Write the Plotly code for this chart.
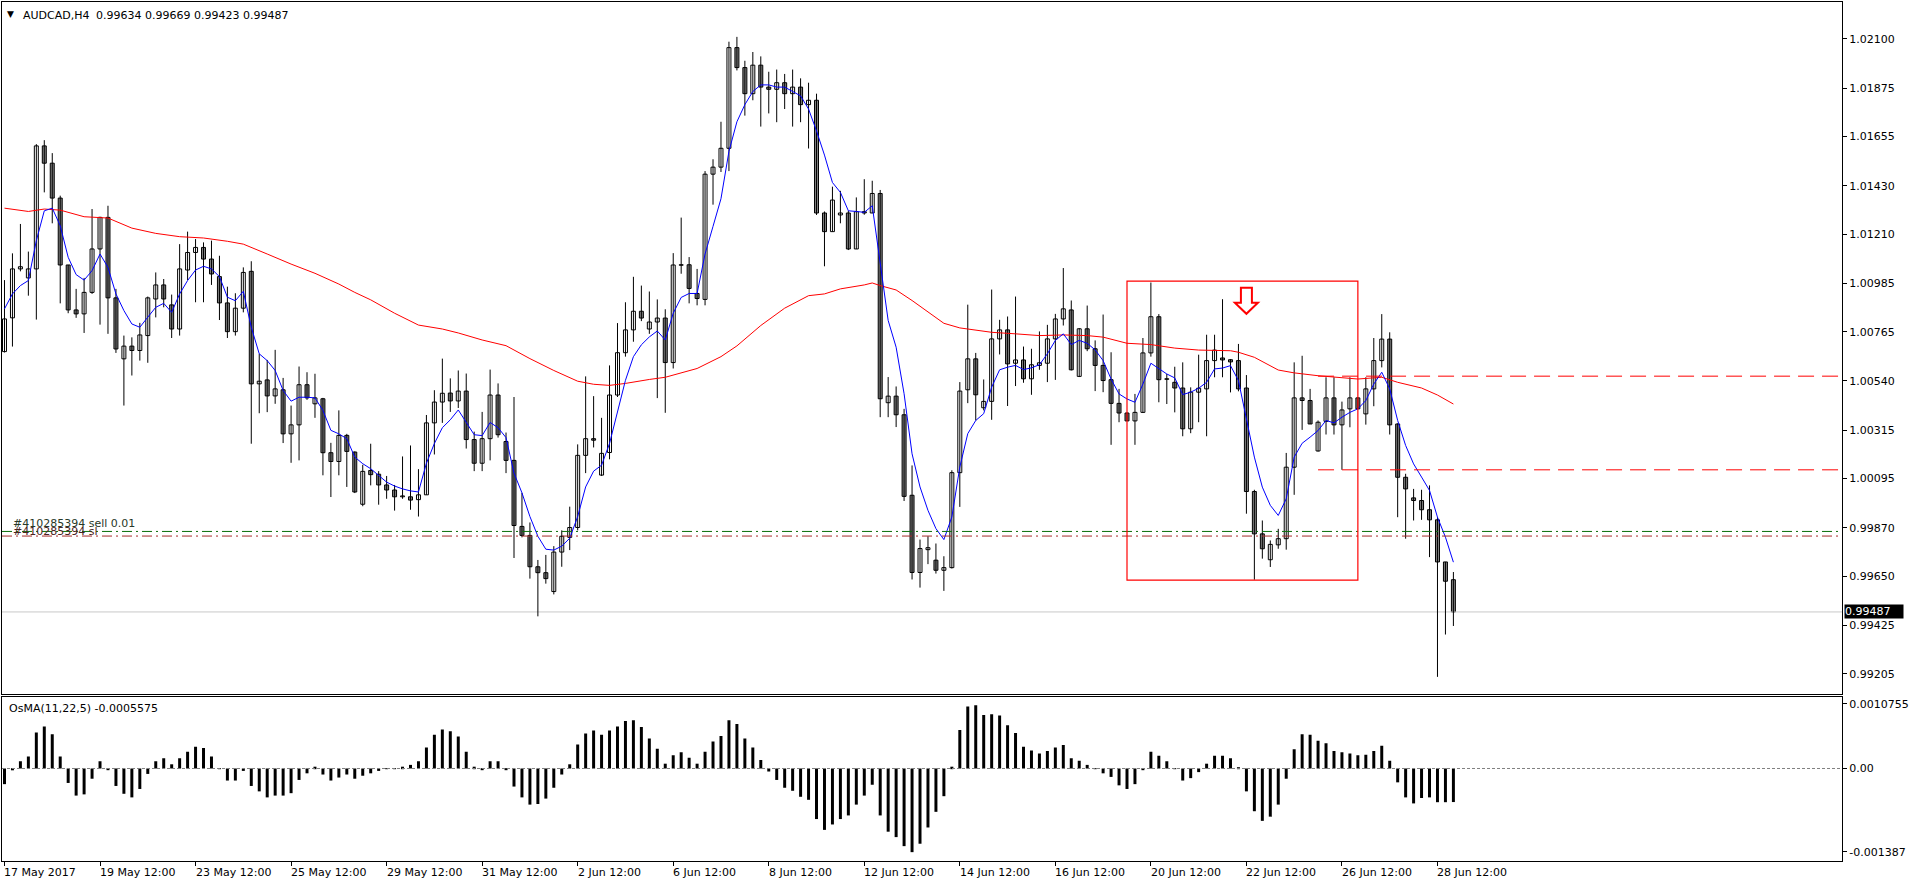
import plotly.graph_objects as go

# ---------------- data (AUDCAD H4, bar 0 = 17 May 2017 12:00) ----------------
bar_open = [
    1.00674, 1.00828, 1.01051, 1.01010, 1.01051, 1.01612, 1.01533, 1.01374, 1.01069, 1.00864,
    1.00846, 1.00944, 1.01142, 1.01286, 1.00919, 1.00641, 1.00699, 1.00679, 1.00747, 1.00914,
    1.00978, 1.00887, 1.00777, 1.01046, 1.01126, 1.01149, 1.01096, 1.01016, 1.00896, 1.00765,
    1.00872, 1.01040, 1.00527, 1.00545, 1.00472, 1.00500, 1.00299, 1.00340, 1.00523, 1.00436,
    1.00459, 1.00213, 1.00173, 1.00292, 1.00216, 0.99978, 1.00132, 1.00115, 1.00066, 1.00043,
    1.00012, 1.00012, 0.99999, 1.00021, 1.00349, 1.00444, 1.00485, 1.00449, 1.00494, 1.00273,
    1.00165, 1.00277, 1.00476, 1.00264, 1.00178, 0.99877, 0.99836, 0.99693, 0.99666, 0.99580,
    0.99760, 0.99827, 0.99872, 1.00201, 1.00277, 1.00111, 1.00214, 1.00476, 1.00669, 1.00773,
    1.00858, 1.00777, 1.00809, 1.00827, 1.00624, 1.01070, 1.01070, 1.00939, 1.00912, 1.01483,
    1.01515, 1.01601, 1.02060, 1.01969, 1.01850, 1.01980, 1.01880, 1.01870, 1.01900, 1.01850,
    1.01880, 1.01800, 1.01820, 1.01306, 1.01221, 1.01297, 1.01306, 1.01142, 1.01312, 1.01306,
    1.01395, 1.00441, 1.00471, 1.00386, 1.00019, 0.99667, 0.99771, 0.99723, 0.99677, 0.99689,
    1.00122, 1.00500, 1.00641, 1.00418, 1.00447, 1.00732, 1.00773, 1.00621, 1.00636, 1.00550,
    1.00611, 1.00621, 1.00732, 1.00823, 1.00864, 1.00561, 1.00778, 1.00687, 1.00611, 1.00546,
    1.00438, 1.00394, 1.00358, 1.00397, 1.00668, 1.00833, 1.00549, 1.00534, 1.00508, 1.00322,
    1.00489, 1.00504, 1.00633, 1.00645, 1.00637, 1.00633, 1.00508, 1.00036, 0.99843, 0.99725,
    0.99793, 0.99821, 1.00147, 1.00463, 1.00451, 1.00221, 1.00356, 1.00463, 1.00340, 1.00413,
    1.00463, 1.00390, 1.00504, 1.00633, 1.00731, 1.00344, 1.00101, 1.00007, 0.99995, 0.99953,
    0.99907, 0.99715, 0.99634]
bar_high = [
    1.01000, 1.01122, 1.01256, 1.01130, 1.01620, 1.01638, 1.01579, 1.01385, 1.01069, 1.00960,
    1.01010, 1.01324, 1.01289, 1.01339, 1.00960, 1.00747, 1.00739, 1.00805, 1.00925, 1.01035,
    1.01005, 1.00934, 1.01164, 1.01221, 1.01187, 1.01172, 1.01180, 1.01111, 1.00970, 1.00940,
    1.01058, 1.01086, 1.00664, 1.00636, 1.00682, 1.00554, 1.00428, 1.00606, 1.00580, 1.00573,
    1.00463, 1.00258, 1.00406, 1.00299, 1.00219, 1.00158, 1.00254, 1.00129, 1.00107, 1.00066,
    1.00196, 1.00246, 1.00138, 1.00385, 1.00498, 1.00642, 1.00552, 1.00588, 1.00574, 1.00309,
    1.00399, 1.00592, 1.00529, 1.00305, 1.00467, 1.00030, 0.99895, 0.99724, 0.99747, 0.99787,
    0.99859, 0.99967, 1.00251, 1.00561, 1.00471, 1.00372, 1.00611, 1.00804, 1.00899, 1.01015,
    1.00975, 1.00948, 1.00912, 1.00867, 1.01123, 1.01285, 1.01105, 1.01051, 1.01497, 1.01551,
    1.01722, 1.02087, 1.02109, 1.02000, 1.02040, 1.02020, 1.01950, 1.01960, 1.01940, 1.01960,
    1.01920, 1.01900, 1.01850, 1.01313, 1.01426, 1.01407, 1.01316, 1.01377, 1.01460, 1.01453,
    1.01411, 1.00558, 1.00515, 1.00413, 1.00155, 0.99817, 0.99832, 0.99799, 0.99741, 1.00133,
    1.00535, 1.00888, 1.00668, 1.00547, 1.00957, 1.00819, 1.00834, 1.00925, 1.00697, 1.00687,
    1.00766, 1.00796, 1.00846, 1.01055, 1.00907, 1.00781, 1.00884, 1.00725, 1.00843, 1.00671,
    1.00504, 1.00397, 1.00481, 1.00736, 1.00989, 1.00845, 1.00572, 1.00605, 1.00625, 1.00511,
    1.00660, 1.00751, 1.00751, 1.00913, 1.00640, 1.00709, 1.00567, 1.00044, 0.99904, 0.99813,
    0.99866, 1.00212, 1.00625, 1.00655, 1.00504, 1.00360, 1.00557, 1.00557, 1.00446, 1.00557,
    1.00466, 1.00557, 1.00736, 1.00845, 1.00762, 1.00347, 1.00117, 1.00048, 1.00044, 1.00064,
    0.99919, 0.99715, 0.99669]
bar_low = [
    1.00670, 1.00697, 1.01040, 1.00929, 1.00820, 1.01400, 1.01259, 1.00894, 1.00849, 1.00828,
    1.00759, 1.00937, 1.00797, 1.00755, 1.00668, 1.00428, 1.00565, 1.00633, 1.00623, 1.00830,
    1.00876, 1.00736, 1.00747, 1.01000, 1.00899, 1.00899, 1.00978, 1.00818, 1.00736, 1.00747,
    1.00853, 1.00254, 1.00393, 1.00398, 1.00436, 1.00257, 1.00167, 1.00178, 1.00454, 1.00372,
    1.00110, 1.00011, 1.00110, 1.00057, 1.00029, 0.99969, 1.00064, 0.99976, 1.00003, 0.99949,
    1.00003, 0.99953, 0.99922, 1.00021, 1.00205, 1.00349, 1.00399, 1.00417, 1.00232, 1.00129,
    1.00129, 1.00178, 1.00282, 1.00120, 0.99733, 0.99827, 0.99639, 0.99467, 0.99616, 0.99567,
    0.99693, 0.99769, 0.99859, 1.00120, 1.00237, 1.00107, 1.00183, 1.00467, 1.00651, 1.00719,
    1.00813, 1.00755, 1.00462, 1.00395, 1.00597, 1.01029, 1.00894, 1.00885, 1.00885, 1.01344,
    1.01493, 1.01497, 1.01956, 1.01750, 1.01820, 1.01700, 1.01760, 1.01720, 1.01780, 1.01700,
    1.01720, 1.01600, 1.01297, 1.01063, 1.01221, 1.01259, 1.01137, 1.01142, 1.01298, 1.01306,
    1.00375, 1.00375, 1.00330, 0.99993, 0.99635, 0.99598, 0.99705, 0.99662, 0.99583, 0.99685,
    0.99966, 1.00439, 1.00360, 1.00406, 1.00363, 1.00661, 1.00426, 1.00517, 1.00532, 1.00477,
    1.00591, 1.00535, 1.00545, 1.00793, 1.00588, 1.00558, 1.00676, 1.00494, 1.00489, 1.00249,
    1.00352, 1.00358, 1.00249, 1.00394, 1.00651, 1.00443, 1.00435, 1.00397, 1.00288, 1.00302,
    1.00352, 1.00288, 1.00557, 1.00557, 1.00488, 1.00493, 0.99935, 0.99634, 0.99730, 0.99692,
    0.99775, 0.99771, 1.00021, 1.00317, 1.00344, 1.00218, 1.00296, 1.00296, 1.00135, 1.00329,
    1.00413, 1.00341, 1.00425, 1.00602, 1.00296, 0.99919, 0.99821, 0.99904, 0.99907, 0.99737,
    0.99191, 0.99384, 0.99423]
bar_close = [
    1.00823, 1.01051, 1.01061, 1.01051, 1.01612, 1.01533, 1.01374, 1.01069, 1.00864, 1.00846,
    1.00944, 1.01142, 1.01286, 1.00919, 1.00686, 1.00699, 1.00679, 1.00750, 1.00919, 1.00978,
    1.00914, 1.00777, 1.01051, 1.01126, 1.01149, 1.01096, 1.01028, 1.00896, 1.00765, 1.00872,
    1.01035, 1.00527, 1.00539, 1.00472, 1.00504, 1.00299, 1.00340, 1.00523, 1.00463, 1.00463,
    1.00213, 1.00173, 1.00292, 1.00219, 1.00034, 1.00128, 1.00113, 1.00066, 1.00043, 1.00012,
    1.00016, 0.99997, 1.00021, 1.00349, 1.00444, 1.00484, 1.00449, 1.00494, 1.00273, 1.00165,
    1.00277, 1.00476, 1.00295, 1.00178, 0.99881, 0.99836, 0.99693, 0.99666, 0.99639, 0.99760,
    0.99832, 0.99872, 1.00201, 1.00277, 1.00270, 1.00210, 1.00476, 1.00669, 1.00773, 1.00858,
    1.00827, 1.00809, 1.00827, 1.00624, 1.01069, 1.01068, 1.00962, 1.00916, 1.01483, 1.01515,
    1.01601, 1.02060, 1.01969, 1.01850, 1.01980, 1.01880, 1.01870, 1.01900, 1.01850, 1.01880,
    1.01800, 1.01820, 1.01306, 1.01221, 1.01365, 1.01306, 1.01142, 1.01312, 1.01306, 1.01395,
    1.00459, 1.00471, 1.00386, 1.00014, 0.99667, 0.99776, 0.99780, 0.99677, 0.99689, 1.00122,
    1.00494, 1.00641, 1.00477, 1.00447, 1.00732, 1.00773, 1.00618, 1.00636, 1.00550, 1.00614,
    1.00623, 1.00732, 1.00823, 1.00869, 1.00591, 1.00778, 1.00687, 1.00611, 1.00542, 1.00438,
    1.00394, 1.00358, 1.00397, 1.00668, 1.00833, 1.00546, 1.00548, 1.00508, 1.00322, 1.00489,
    1.00507, 1.00633, 1.00681, 1.00636, 1.00627, 1.00504, 1.00036, 0.99843, 0.99775, 0.99795,
    0.99821, 1.00147, 1.00463, 1.00451, 1.00344, 1.00352, 1.00463, 1.00340, 1.00408, 1.00463,
    1.00413, 1.00504, 1.00633, 1.00731, 1.00340, 1.00101, 1.00048, 0.99995, 0.99953, 0.99907,
    0.99715, 0.99627, 0.99487]

ma_fast = [
    1.00869, 1.00937, 1.00975, 1.00998, 1.01180, 1.01316, 1.01328, 1.01248, 1.01104, 1.01025,
    1.01000, 1.01043, 1.01119, 1.01058, 1.00937, 1.00861, 1.00800, 1.00785, 1.00831, 1.00876,
    1.00894, 1.00853, 1.00937, 1.00998, 1.01046, 1.01063, 1.01051, 1.01016, 1.00922, 1.00906,
    1.00949, 1.00785, 1.00664, 1.00633, 1.00588, 1.00497, 1.00448, 1.00466, 1.00466, 1.00463,
    1.00406, 1.00315, 1.00299, 1.00277, 1.00193, 1.00163, 1.00140, 1.00111, 1.00079, 1.00061,
    1.00048, 1.00039, 1.00034, 1.00165, 1.00255, 1.00327, 1.00363, 1.00408, 1.00354, 1.00295,
    1.00291, 1.00351, 1.00327, 1.00282, 1.00120, 1.00030, 0.99922, 0.99832, 0.99773, 0.99769,
    0.99787, 0.99823, 0.99922, 1.00057, 1.00129, 1.00156, 1.00255, 1.00399, 1.00543, 1.00651,
    1.00705, 1.00741, 1.00768, 1.00727, 1.00849, 1.00921, 1.00939, 1.00939, 1.01119, 1.01245,
    1.01371, 1.01587, 1.01722, 1.01800, 1.01860, 1.01890, 1.01890, 1.01880, 1.01880, 1.01860,
    1.01840, 1.01780, 1.01680, 1.01570, 1.01445, 1.01400, 1.01316, 1.01313, 1.01309, 1.01339,
    1.01074, 1.00816, 1.00694, 1.00482, 1.00208, 1.00057, 0.99950, 0.99867, 0.99817, 0.99920,
    1.00148, 1.00300, 1.00360, 1.00391, 1.00512, 1.00591, 1.00603, 1.00611, 1.00592, 1.00600,
    1.00614, 1.00664, 1.00725, 1.00755, 1.00706, 1.00725, 1.00712, 1.00682, 1.00633, 1.00549,
    1.00481, 1.00458, 1.00443, 1.00526, 1.00621, 1.00595, 1.00572, 1.00554, 1.00478, 1.00489,
    1.00507, 1.00534, 1.00595, 1.00599, 1.00610, 1.00542, 1.00360, 1.00193, 1.00056, 0.99973,
    0.99927, 1.00003, 1.00193, 1.00256, 1.00284, 1.00314, 1.00360, 1.00349, 1.00375, 1.00397,
    1.00413, 1.00451, 1.00526, 1.00580, 1.00504, 1.00360, 1.00246, 1.00162, 1.00102, 1.00041,
    0.99919, 0.99828, 0.99714]

ma_slow_bars = [0, 3, 5, 7, 10, 13, 16, 19, 22, 25, 28, 30, 33, 36, 39, 42, 44, 46, 49, 52,
                55, 57, 60, 63, 66, 69, 72, 74, 76, 78, 81, 83, 87, 90, 92, 95, 98, 101, 103, 105,
                108, 109, 110, 112, 114, 116, 118, 120, 122, 124, 127, 130, 133, 136, 138, 141, 144,
                147, 150, 154, 155, 157, 160, 162, 165, 168, 170, 173, 175, 178, 180, 182]
ma_slow = [1.01328, 1.01313, 1.01324, 1.01319, 1.01289, 1.01283, 1.01237, 1.01213, 1.01198, 1.01192,
           1.01177, 1.01164, 1.01119, 1.01073, 1.01031, 1.00982, 1.00944, 1.00910, 1.00849, 1.00795,
           1.00777, 1.00759, 1.00727, 1.00701, 1.00642, 1.00588, 1.00539, 1.00525, 1.00520, 1.00529,
           1.00547, 1.00557, 1.00597, 1.00651, 1.00700, 1.00793, 1.00872, 1.00929, 1.00937, 1.00960,
           1.00978, 1.00987, 1.00975, 1.00955, 1.00907, 1.00854, 1.00803, 1.00782, 1.00773, 1.00762,
           1.00755, 1.00747, 1.00750, 1.00747, 1.00740, 1.00712, 1.00706, 1.00690, 1.00681, 1.00678,
           1.00671, 1.00648, 1.00590, 1.00577, 1.00564, 1.00557, 1.00549, 1.00557, 1.00534, 1.00508,
           1.00476, 1.00435]

osma = [
    -0.00026, -0.00003, 0.00012, 0.00020, 0.00060, 0.00070, 0.00057, 0.00020, -0.00024, -0.00045,
    -0.00043, -0.00017, 0.00012, -0.00002, -0.00029, -0.00042, -0.00048, -0.00034, -0.00009, 0.00012,
    0.00017, 0.00007, 0.00017, 0.00028, 0.00036, 0.00034, 0.00020, -0.00001, -0.00020, -0.00020,
    -0.00004, -0.00029, -0.00038, -0.00048, -0.00045, -0.00045, -0.00041, -0.00019, -0.00008, 0.00003,
    -0.00010, -0.00020, -0.00015, -0.00010, -0.00017, -0.00012, -0.00008, -0.00004, -0.00001, 0.000005,
    0.00003, 0.00006, 0.00012, 0.00035, 0.00056, 0.00065, 0.00062, 0.00053, 0.00028, 0.00003,
    -0.00002, 0.00012, 0.00012, -0.00002, -0.00030, -0.00048, -0.00060, -0.00059, -0.00050, -0.00032,
    -0.00010, 0.00007, 0.00040, 0.00058, 0.00063, 0.00056, 0.00063, 0.00070, 0.00079, 0.00080,
    0.00069, 0.00050, 0.00033, 0.00008, 0.00022, 0.00027, 0.00018, 0.00008, 0.00028, 0.00045,
    0.00054, 0.00080, 0.00074, 0.00050, 0.00035, 0.00014, -0.00005, -0.00019, -0.00032, -0.00037,
    -0.00047, -0.00052, -0.00084, -0.00102, -0.00093, -0.00084, -0.00078, -0.00060, -0.00045, -0.00027,
    -0.00078, -0.00105, -0.00114, -0.00129, -0.00139, -0.00125, -0.00098, -0.00072, -0.00046, 0.00003,
    0.00064, 0.00103, 0.00105, 0.00089, 0.00090, 0.00088, 0.00072, 0.00059, 0.00036, 0.00030,
    0.00025, 0.00029, 0.00035, 0.00039, 0.00017, 0.00013, 0.00006, -0.00001, -0.00008, -0.00014,
    -0.00028, -0.00034, -0.00026, -0.00002, 0.00028, 0.00021, 0.00012, -0.00001, -0.00020, -0.00016,
    -0.00006, 0.00008, 0.00021, 0.00021, 0.00017, 0.00002, -0.00038, -0.00071, -0.00087, -0.00080,
    -0.00060, -0.00017, 0.00032, 0.00057, 0.00056, 0.00046, 0.00042, 0.00029, 0.00027, 0.00025,
    0.00022, 0.00023, 0.00029, 0.00038, 0.00013, -0.00023, -0.00048, -0.00058, -0.00049, -0.00048,
    -0.00056, -0.00056, -0.0005575]

x_tick_bars = [0, 12, 24, 36, 48, 60, 72, 84, 96, 108, 120, 132, 144, 156, 168, 180]
x_tick_labels = ["17 May 2017", "19 May 12:00", "23 May 12:00", "25 May 12:00", "29 May 12:00",
                 "31 May 12:00", "2 Jun 12:00", "6 Jun 12:00", "8 Jun 12:00", "12 Jun 12:00",
                 "14 Jun 12:00", "16 Jun 12:00", "20 Jun 12:00", "22 Jun 12:00", "26 Jun 12:00",
                 "28 Jun 12:00"]
price_ticks = [1.02100, 1.01875, 1.01655, 1.01430, 1.01210, 1.00985, 1.00765, 1.00540,
               1.00315, 1.00095, 0.99870, 0.99650, 0.99425, 0.99205]
price_tick_labels = ["1.02100", "1.01875", "1.01655", "1.01430", "1.01210", "1.00985", "1.00765",
                     "1.00540", "1.00315", "1.00095", "0.99870", "0.99650", "0.99425", "0.99205"]
osma_ticks = [0.0010755, 0.0, -0.001387]
osma_tick_labels = ["0.0010755", "0.00", "-0.001387"]

symbol_title = "AUDCAD,H4"
ohlc_title = "0.99634 0.99669 0.99423 0.99487"
osma_title = "OsMA(11,22,5) -0.0005575"
last_price = 0.99487
order_level = 0.99854
order_level_2 = 0.99833
order_label = "#410285394 sell 0.01"
order_label_2 = "#410285394 sl"
red_levels = [1.00562, 1.00135]
red_level_start = [165, 165]
box_bars = [141, 170]
box_prices = [0.99632, 1.00995]
arrow_bar = 156
arrow_price = 1.00965

# ---------------- geometry ----------------
X_MIN, X_MAX = -0.3125, 230.8125
Y_MAIN = [0.99112, 1.02268]
Y_OSMA = [-0.001537, 0.001185]
FONT = "DejaVu Sans"

n = len(bar_open)
idx = list(range(n))

fig = go.Figure()

# current price line
fig.add_trace(go.Scatter(x=[X_MIN, X_MAX], y=[last_price, last_price], mode="lines",
                         line=dict(color="#c8c8c8", width=1), xaxis="x2", yaxis="y", hoverinfo="skip"))

# wicks
wx, wy = [], []
for i in idx:
    wx += [i, i, None]
    wy += [bar_low[i], bar_high[i], None]
fig.add_trace(go.Scatter(x=wx, y=wy, mode="lines", line=dict(color="black", width=1),
                         xaxis="x2", yaxis="y", hoverinfo="skip"))

# bodies
base = [min(o, c) for o, c in zip(bar_open, bar_close)]
height = [max(abs(c - o), 0.00002) for o, c in zip(bar_open, bar_close)]
colors = ["white" if c >= o else "#808080" for o, c in zip(bar_open, bar_close)]
fig.add_trace(go.Bar(x=idx, y=height, base=base, width=0.5,
                     marker=dict(color=colors, line=dict(color="black", width=1)),
                     xaxis="x2", yaxis="y", hoverinfo="skip"))

# moving averages
fig.add_trace(go.Scatter(x=ma_slow_bars, y=ma_slow, mode="lines", line=dict(color="#ff0000", width=1),
                         xaxis="x2", yaxis="y", hoverinfo="skip"))
fig.add_trace(go.Scatter(x=idx, y=ma_fast, mode="lines", line=dict(color="#0000ff", width=1),
                         xaxis="x2", yaxis="y", hoverinfo="skip"))

# order levels (dash-dot)
fig.add_trace(go.Scatter(x=[X_MIN, X_MAX], y=[order_level, order_level], mode="lines",
                         line=dict(color="#0a6e0a", width=1, dash="10px,4px,2px,4px"),
                         xaxis="x2", yaxis="y", hoverinfo="skip"))
fig.add_trace(go.Scatter(x=[X_MIN, X_MAX], y=[order_level_2, order_level_2], mode="lines",
                         line=dict(color="#a52a2a", width=1, dash="10px,4px,2px,4px"),
                         xaxis="x2", yaxis="y", hoverinfo="skip"))

# red dashed levels
for lvl, start in zip(red_levels, red_level_start):
    fig.add_trace(go.Scatter(x=[start, X_MAX], y=[lvl, lvl], mode="lines",
                             line=dict(color="#ff0000", width=1, dash="16px,8px"),
                             xaxis="x2", yaxis="y", hoverinfo="skip"))

# OsMA histogram
fig.add_trace(go.Bar(x=idx, y=osma, width=0.375, marker=dict(color="black", line=dict(width=0)),
                     xaxis="x", yaxis="y2", hoverinfo="skip"))
# zero line of OsMA
fig.add_trace(go.Scatter(x=[X_MIN, X_MAX], y=[0, 0], mode="lines",
                         line=dict(color="#808080", width=1, dash="3px,2px"),
                         xaxis="x", yaxis="y2", hoverinfo="skip"))

shapes = [
    dict(type="rect", xref="x2", yref="y", x0=box_bars[0], x1=box_bars[1],
         y0=box_prices[0], y1=box_prices[1], line=dict(color="#ff0000", width=1.2),
         fillcolor="rgba(0,0,0,0)", layer="above"),
    dict(type="path", xref="x2", yref="y", xsizemode="pixel", ysizemode="pixel",
         xanchor=arrow_bar, yanchor=arrow_price,
         path="M -5.5,0 L 5.5,0 L 5.5,-15 L 11.5,-15 L 0,-26 L -11.5,-15 L -5.5,-15 Z",
         line=dict(color="#ff0000", width=2), fillcolor="white", layer="above"),
]

annotations = []
for tv, tl in zip(x_tick_bars, x_tick_labels):
    annotations.append(dict(x=tv, xref="x", y=0, yref="paper", yanchor="top", xanchor="left",
                            xshift=-2, yshift=-3, text=tl, showarrow=False,
                            font=dict(family=FONT, size=11, color="black")))
annotations += [
    dict(x=0, xref="paper", y=1, yref="paper", xanchor="left", yanchor="top", xshift=3, yshift=-5,
         text="\u25BC", showarrow=False, font=dict(family=FONT, size=9, color="black")),
    dict(x=0, xref="paper", y=1, yref="paper", xanchor="left", yanchor="top", xshift=19, yshift=-5,
         text=symbol_title, showarrow=False, font=dict(family=FONT, size=11, color="black")),
    dict(x=0, xref="paper", y=1, yref="paper", xanchor="left", yanchor="top", xshift=92, yshift=-5,
         text=ohlc_title, showarrow=False, font=dict(family=FONT, size=11, color="black")),
    dict(x=0, xref="paper", y=0.1907, yref="paper", xanchor="left", yanchor="top", xshift=5, yshift=-3,
         text=osma_title, showarrow=False, font=dict(family=FONT, size=11, color="black")),
    dict(x=0, xref="paper", y=order_level_2, yref="y", xanchor="left", yanchor="bottom", xshift=9,
         yshift=-4, text=order_label_2, showarrow=False, font=dict(family=FONT, size=11, color="#4a2424")),
    dict(x=0, xref="paper", y=order_level, yref="y", xanchor="left", yanchor="bottom", xshift=9,
         yshift=-1, text=order_label, showarrow=False, font=dict(family=FONT, size=11, color="#283828")),
    dict(x=1, xref="paper", y=last_price, yref="y", xanchor="left", yanchor="middle", xshift=2,
         text=f"{last_price:.5f}", showarrow=False, bgcolor="black", borderpad=0, width=58, height=13,
         align="left", font=dict(family=FONT, size=11, color="white")),
]

axis_common = dict(showgrid=False, zeroline=False, showline=True, linecolor="black", linewidth=1,
                   mirror=True)
fig.update_layout(
    width=1910, height=884, margin=dict(l=1, r=60, t=1, b=23, pad=0),
    paper_bgcolor="white", plot_bgcolor="white", showlegend=False, barmode="overlay",
    hovermode=False, font=dict(family=FONT, size=11, color="black"),
    xaxis=dict(domain=[0, 1], anchor="y2", range=[X_MIN, X_MAX], ticks="outside", ticklen=4,
               tickcolor="black", tickvals=x_tick_bars, showticklabels=False, **axis_common),
    xaxis2=dict(domain=[0, 1], anchor="y", matches="x", range=[X_MIN, X_MAX], ticks="",
                showticklabels=False, **axis_common),
    yaxis=dict(domain=[0.19419, 1], anchor="x2", side="right", range=Y_MAIN, ticks="outside",
               ticklen=4, tickcolor="black", tickvals=price_ticks, ticktext=price_tick_labels,
               tickfont=dict(family=FONT, size=11, color="black"), **axis_common),
    yaxis2=dict(domain=[0, 0.1907], anchor="x", side="right", range=Y_OSMA, ticks="outside",
                ticklen=4, tickcolor="black", tickvals=osma_ticks, ticktext=osma_tick_labels,
                tickfont=dict(family=FONT, size=11, color="black"), **axis_common),
    shapes=shapes, annotations=annotations,
)

fig.write_html("out.html")
